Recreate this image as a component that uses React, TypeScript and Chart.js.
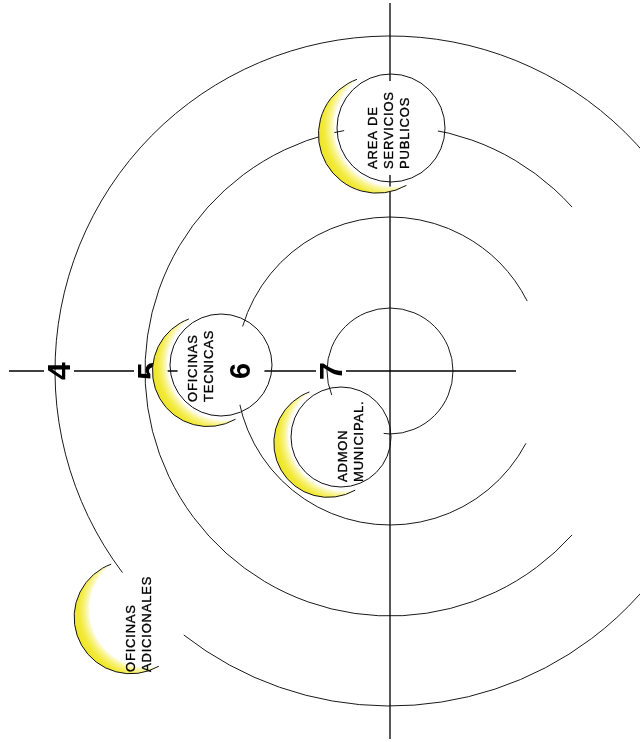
import React, { useEffect, useRef } from 'react';
import { Chart, registerables } from 'chart.js';

Chart.register(...registerables);

// Rings of the spiral (level label, radius in diagram units, open gap in degrees)
const ringLevels = ['4', '5', '6', '7'];
const ringRadii = [335, 245, 154, 63];
const ringGapStart = [128, -42, -27, 0];
const ringGapEnd = [143, 42, 28, 0];

// Nodes (areas) placed on the spiral
const nodeLines = [
  ['AREA DE', 'SERVICIOS', 'PUBLICOS'],
  ['OFICINAS', 'TECNICAS'],
  ['ADMON', 'MUNICIPAL.'],
  ['OFICINAS', 'ADICIONALES'],
];
const nodeX = [1, -169, -49, -246];
const nodeY = [243, 6, -66, -240];
const nodeRadius = [54, 51, 50, 52];
const nodeHasCircle = [true, true, true, false];
const nodeTextX = [-13, -193, -43, -255];
const nodeTextY = [202, -31, -111, -301];

// Cross axes extents
const hAxis = [-381, 126];
const vAxis = [368, -368];

const labelOffset = 4;
const labelGapHalf = 15;

const deg = Math.PI / 180;

function drawCrescent(ctx: CanvasRenderingContext2D, cx: number, cy: number, r: number) {
  const phi = 155 * deg;
  const alpha = 80 * deg;
  const T = 1.1 * r;
  const Eo = 1.37 * r;
  const Ei = 1.05 * r;
  const p = T * Math.cos(alpha);
  const q = T * Math.sin(alpha);
  const t = (Eo * Eo - T * T) / (2 * (Eo - p));
  const R = Eo - t;
  const s = (Ei * Ei - T * T) / (2 * (Ei - p));
  const rho = Ei - s;
  const ux = Math.cos(phi);
  const uy = Math.sin(phi);
  const ox = cx + t * ux;
  const oy = cy + t * uy;
  const ix = cx + s * ux;
  const iy = cy + s * uy;
  const bo = Math.atan2(q, p - t);
  const bi = Math.atan2(q, p - s);

  ctx.save();
  ctx.beginPath();
  ctx.arc(ox, oy, R, phi - bo, phi + bo, false);
  ctx.arc(ix, iy, rho, phi + bi, phi - bi, true);
  ctx.closePath();
  const g = ctx.createRadialGradient(ix, iy, rho, ix, iy, rho + (Eo - Ei));
  g.addColorStop(0, 'rgb(253,251,222)');
  g.addColorStop(0.3, 'rgb(248,242,125)');
  g.addColorStop(0.6, 'rgb(242,234,58)');
  g.addColorStop(1, 'rgb(238,228,40)');
  ctx.fillStyle = g;
  ctx.fill();
  ctx.beginPath();
  ctx.arc(ox, oy, R, phi - bo, phi + bo, false);
  ctx.strokeStyle = '#111';
  ctx.lineWidth = 1;
  ctx.stroke();
  ctx.restore();
}

function drawRingLabel(ctx: CanvasRenderingContext2D, px: number, py: number, text: string) {
  ctx.save();
  const size = text === '6' ? 29 : 32;
  ctx.font = `bold ${size}px "Liberation Sans", Arial, sans-serif`;
  const capH = size * 0.716;
  ctx.translate(px + capH / 2, py);
  ctx.rotate(-Math.PI / 2);
  ctx.textAlign = 'center';
  ctx.textBaseline = 'alphabetic';
  ctx.fillStyle = '#000';
  ctx.fillText(text, 0, 0);
  ctx.restore();
}

const diagramPlugin = {
  id: 'spiralDiagram',
  beforeDatasetsDraw(chart: any) {
    const { ctx } = chart;
    const xs = chart.scales.x;
    const ys = chart.scales.y;
    const cx = xs.getPixelForValue(0);
    const cy = ys.getPixelForValue(0);
    ctx.save();
    ctx.strokeStyle = '#1a1a1a';
    ctx.lineWidth = 1;
    ringRadii.forEach((r, i) => {
      const rp = xs.getPixelForValue(r) - cx;
      ctx.beginPath();
      if (ringGapStart[i] === ringGapEnd[i]) {
        ctx.arc(cx, cy, rp, 0, Math.PI * 2);
      } else {
        ctx.arc(cx, cy, rp, ringGapEnd[i] * deg, (ringGapStart[i] + 360) * deg);
      }
      ctx.stroke();
    });
    ctx.restore();
  },
  afterDatasetsDraw(chart: any) {
    const { ctx } = chart;
    const xs = chart.scales.x;
    const ys = chart.scales.y;
    const cx = xs.getPixelForValue(0);
    const cy = ys.getPixelForValue(0);
    const unit = xs.getPixelForValue(1) - cx;

    const nodes = nodeX.map((nx, i) => ({
      px: xs.getPixelForValue(nx),
      py: ys.getPixelForValue(nodeY[i]),
      pr: nodeRadius[i] * unit,
      circle: nodeHasCircle[i],
    }));

    const labels = ringLevels.map((lv, i) => ({
      text: lv,
      px: xs.getPixelForValue(-ringRadii[i] + labelOffset),
      py: cy,
    }));
    const insideDisc = (l: any) =>
      nodes.some((n) => n.circle && Math.hypot(l.px - n.px, l.py - n.py) < n.pr - 6);

    // ring labels beneath the crescents
    labels.filter((l) => !insideDisc(l)).forEach((l) => drawRingLabel(ctx, l.px, l.py, l.text));

    // crescents
    nodes.forEach((n) => drawCrescent(ctx, n.px, n.py, n.pr));

    // white discs and outlines
    nodes.forEach((n) => {
      if (!n.circle) return;
      ctx.save();
      ctx.beginPath();
      ctx.arc(n.px, n.py, n.pr - 7, 0, Math.PI * 2);
      ctx.fillStyle = '#fff';
      ctx.fill();
      ctx.beginPath();
      ctx.arc(n.px, n.py, n.pr, 0, Math.PI * 2);
      ctx.strokeStyle = '#111';
      ctx.lineWidth = 1;
      ctx.stroke();
      ctx.restore();
    });

    // node texts
    nodeLines.forEach((lines, i) => {
      const bx = xs.getPixelForValue(nodeTextX[i]);
      const by = ys.getPixelForValue(nodeTextY[i]);
      lines.forEach((line, j) => {
        ctx.save();
        ctx.font = '13px "Liberation Sans", Arial, sans-serif';
        (ctx as any).letterSpacing = '0.8px';
        ctx.fillStyle = '#000';
        ctx.strokeStyle = '#000';
        ctx.lineWidth = 0.35;
        ctx.textAlign = 'left';
        ctx.textBaseline = 'alphabetic';
        ctx.translate(bx + j * 16, by);
        ctx.rotate(-Math.PI / 2);
        ctx.fillText(line, 0, 0);
        ctx.strokeText(line, 0, 0);
        ctx.restore();
      });
    });

    // ring labels sitting inside a node circle
    labels.filter((l) => insideDisc(l)).forEach((l) => drawRingLabel(ctx, l.px, l.py, l.text));
  },
};

function buildAxisDatasets() {
  const gaps = ringRadii.map((r) => -r + labelOffset).sort((a, b) => a - b);
  const segs: { x: number; y: number }[][] = [];
  let start = hAxis[0];
  gaps.forEach((g) => {
    segs.push([
      { x: start, y: 0 },
      { x: g - labelGapHalf, y: 0 },
    ]);
    start = g + labelGapHalf;
  });
  segs.push([
    { x: start, y: 0 },
    { x: hAxis[1], y: 0 },
  ]);
  segs.push([
    { x: 0, y: vAxis[0] },
    { x: 0, y: vAxis[1] },
  ]);
  return segs.map((data) => ({
    data,
    showLine: true,
    borderColor: '#000',
    borderWidth: 1.3,
    pointRadius: 0,
    fill: false,
  }));
}

export default function App() {
  const ref = useRef<HTMLCanvasElement | null>(null);
  useEffect(() => {
    if (!ref.current) return;
    const chart = new Chart(ref.current, {
      type: 'scatter',
      data: { datasets: buildAxisDatasets() as any },
      options: {
        animation: false,
        responsive: false,
        events: [],
        layout: { padding: 0 },
        plugins: { legend: { display: false }, tooltip: { enabled: false } },
        scales: {
          x: { type: 'linear', min: -390, max: 250, display: false },
          y: { type: 'linear', min: -371, max: 371, display: false },
        },
      },
      plugins: [diagramPlugin],
    });
    return () => chart.destroy();
  }, []);
  return (
    <div style={{ position: 'absolute', left: 0, top: 0, width: 640, height: 742, background: '#fff' }}>
      <canvas ref={ref} width={640} height={742} style={{ display: 'block' }} />
    </div>
  );
}
